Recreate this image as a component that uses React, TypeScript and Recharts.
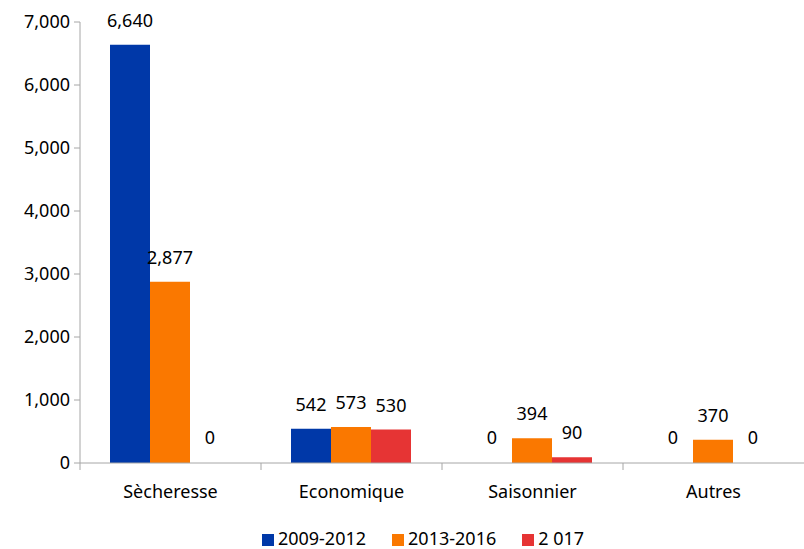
import React from 'react'
import { BarChart, Bar, XAxis, YAxis, Legend, LabelList, Rectangle } from 'recharts'

const categories = ['Sècheresse', 'Economique', 'Saisonnier', 'Autres']
const s2009 = [6640, 542, 0, 0]
const s2013 = [2877, 573, 394, 370]
const s2017 = [0, 530, 90, 0]
const yTicks = [0, 1000, 2000, 3000, 4000, 5000, 6000, 7000]

const data = categories.map((c, i) => ({ cat: c, a: s2009[i], b: s2013[i], c: s2017[i] }))

const W = 804
const H = 549
const LEFT = 80
const BAND = (W - LEFT) / categories.length
const font = '"Noto Sans", sans-serif'
const axisGray = '#a6a6a6'
const FS = 18

const fmt = (v: number) => v.toLocaleString('en-US')

const XTick = (props: any) => {
  const { x, y, payload } = props
  const bx = x - BAND / 2
  return (
    <g>
      <line x1={bx} x2={bx} y1={y - 8} y2={y - 1} stroke={axisGray} />
      <text x={x} y={y + 27} textAnchor="middle" fontSize={FS} fontFamily={font} fill="#000">
        {payload.value}
      </text>
    </g>
  )
}

// zero-valued bars keep their slot (so the "0" label shows) but draw nothing
const BarShape = (props: any) => (props.value > 0 ? <Rectangle {...props} /> : <g />)

const labelStyle = { fill: '#000', fontSize: FS, fontFamily: font }

export default function App() {
  return (
    <div style={{ position: 'absolute', left: 0, top: 0, width: W, height: H, background: '#fff' }}>
      <BarChart
        width={W}
        height={H}
        data={data}
        margin={{ top: 22, right: 0, left: 0, bottom: 6 }}
        barGap={0}
        barCategoryGap={30}
      >
        <XAxis
          dataKey="cat"
          height={60}
          stroke={axisGray}
          tickLine={false}
          tick={<XTick />}
          interval={0}
        />
        <YAxis
          width={LEFT}
          domain={[0, 7000]}
          ticks={yTicks}
          tickFormatter={fmt}
          stroke={axisGray}
          tickSize={6}
          tickMargin={4}
          tick={{ fill: '#000', fontSize: FS, fontFamily: font }}
        />
        <Legend
          iconType="square"
          iconSize={12}
          itemSorter="dataKey"
          wrapperStyle={{ top: 528, height: 20, lineHeight: '20px', left: 34, fontFamily: font, fontSize: FS }}
          formatter={(v: string) => <span style={{ color: '#000', paddingRight: 16 }}>{v}</span>}
        />
        <Bar dataKey="a" name="2009-2012" fill="#0038A8" minPointSize={1} shape={BarShape} isAnimationActive={false}>
          <LabelList dataKey="a" position="top" offset={18} formatter={fmt} style={labelStyle} />
        </Bar>
        <Bar dataKey="b" name="2013-2016" fill="#FA7800" minPointSize={1} shape={BarShape} isAnimationActive={false}>
          <LabelList dataKey="b" position="top" offset={18} formatter={fmt} style={labelStyle} />
        </Bar>
        <Bar dataKey="c" name="2 017" fill="#E63434" minPointSize={1} shape={BarShape} isAnimationActive={false}>
          <LabelList dataKey="c" position="top" offset={18} formatter={fmt} style={labelStyle} />
        </Bar>
      </BarChart>
    </div>
  )
}
